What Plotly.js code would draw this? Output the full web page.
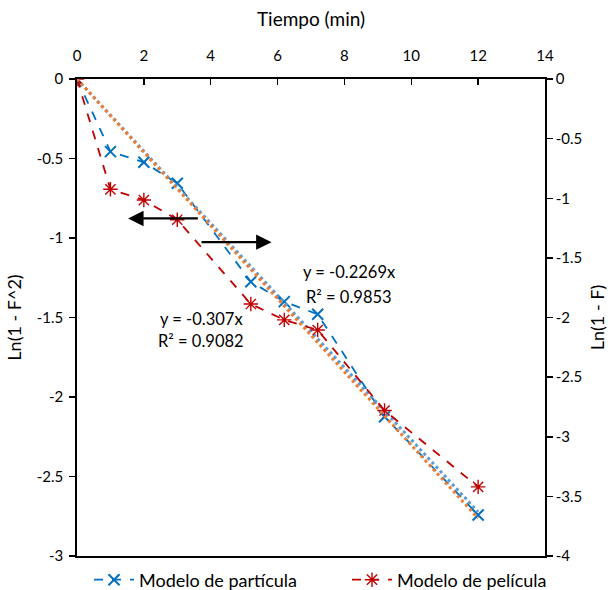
<!DOCTYPE html>
<html>
<head>
<meta charset="utf-8">
<script src="https://cdn.plot.ly/plotly-3.0.1.min.js"></script>
<style>html,body{margin:0;padding:0;background:#fff;}#chart{width:614px;height:590px;}</style>
</head>
<body>
<div id="chart"></div>
<script>
// Data
var tiempo = [0, 1, 2, 3, 5.2, 6.2, 7.2, 9.2, 12];
var particula = [0, -0.457, -0.524, -0.656, -1.275, -1.40, -1.48, -2.124, -2.742];   // Ln(1 - F^2), left axis
var pelicula  = [0, -0.925, -1.015, -1.18, -1.887, -2.02, -2.105, -2.78, -3.42];      // Ln(1 - F), right axis
var slopeParticula = -0.2269;
var slopePelicula = -0.307;
var r2Particula = 0.9853;
var r2Pelicula = 0.9082;
var xTicks = [0, 2, 4, 6, 8, 10, 12, 14];
var yLeftTicks = [0, -0.5, -1, -1.5, -2, -2.5, -3];
var yRightTicks = [0, -0.5, -1, -1.5, -2, -2.5, -3, -3.5, -4];

var tFit = [0, tiempo[tiempo.length - 1]];
var fitPart = tFit.map(function (t) { return slopeParticula * t; });
var fitPel = tFit.map(function (t) { return slopePelicula * t; });

var font = "Lato, 'Open Sans', sans-serif";
function lbl(v) { return String(v); }

var traces = [
  {
    x: tiempo, y: particula, yaxis: 'y', name: 'Modelo de partícula', mode: 'lines+markers', legend: 'legend',
    line: {color: '#0070C0', width: 1.8, dash: 'dash'},
    marker: {symbol: 'x-thin-open', size: 11, color: '#0070C0', line: {color: '#0070C0', width: 2}}
  },
  {
    x: tiempo, y: pelicula, yaxis: 'y2', name: 'Modelo de película', mode: 'lines+markers', legend: 'legend2',
    line: {color: '#C00000', width: 1.8, dash: 'dash'},
    marker: {symbol: 'asterisk-open', size: 12, color: '#C00000', line: {color: '#C00000', width: 1.4}}
  },
  {
    x: tFit, y: fitPart, yaxis: 'y', mode: 'lines', showlegend: false, hoverinfo: 'skip',
    line: {color: '#5B9BD5', width: 3, dash: 'dot'}
  },
  {
    x: tFit, y: fitPel, yaxis: 'y2', mode: 'lines', showlegend: false, hoverinfo: 'skip',
    line: {color: '#ED7D31', width: 3, dash: 'dot'}
  }
];

var legendBase = {orientation: 'h', xanchor: 'left', yref: 'container', y: 10 / 590, yanchor: 'middle',
                  bgcolor: 'rgba(0,0,0,0)', font: {family: font, size: 18, color: '#000'}, itemwidth: 40};

var layout = {
  width: 614, height: 590,
  margin: {l: 77, r: 69, t: 79, b: 34, pad: 0, autoexpand: false},
  paper_bgcolor: '#fff', plot_bgcolor: '#fff',
  font: {family: font, size: 15, color: '#000'},
  showlegend: true,
  legend: Object.assign({}, legendBase, {x: (89 - 77) / 468}),
  legend2: Object.assign({}, legendBase, {x: (347 - 77) / 468}),
  xaxis: {
    side: 'top', range: [0, 14], tickvals: xTicks, ticktext: xTicks.map(lbl),
    ticks: 'inside', ticklen: 6, tickwidth: 1.5, tickcolor: '#000', ticklabelstandoff: 10,
    showline: true, linecolor: '#000', linewidth: 1.8, mirror: true,
    showgrid: false, zeroline: false,
    title: {text: 'Tiempo (min)', font: {family: font, size: 19}, standoff: 14},
    tickfont: {family: font, size: 15}
  },
  yaxis: {
    range: [-3, 0], tickvals: yLeftTicks, ticktext: yLeftTicks.map(lbl),
    ticks: 'outside', ticklen: 6, tickwidth: 1.5, tickcolor: '#000', ticklabelstandoff: 3,
    showline: true, linecolor: '#000', linewidth: 1.8, showgrid: false, zeroline: false,
    title: {text: 'Ln(1 - F^2)', font: {family: font, size: 18}, standoff: 10},
    tickfont: {family: font, size: 15}
  },
  yaxis2: {
    overlaying: 'y', side: 'right', range: [-4, 0], tickvals: yRightTicks, ticktext: yRightTicks.map(lbl),
    ticks: 'outside', ticklen: 6, tickwidth: 1.5, tickcolor: '#000',
    showline: true, linecolor: '#000', linewidth: 1.8, showgrid: false, zeroline: false,
    title: {text: 'Ln(1 - F)', font: {family: font, size: 18}, standoff: 10},
    tickfont: {family: font, size: 15}
  },
  annotations: [
    {xref: 'x', yref: 'y', x: 1.53, y: -0.877, axref: 'x', ayref: 'y', ax: 3.66, ay: -0.877,
     showarrow: true, arrowhead: 2, arrowsize: 1.4, arrowwidth: 2.2, arrowcolor: '#000', text: ''},
    {xref: 'x', yref: 'y', x: 5.82, y: -1.026, axref: 'x', ayref: 'y', ax: 3.68, ay: -1.026,
     showarrow: true, arrowhead: 2, arrowsize: 1.4, arrowwidth: 2.2, arrowcolor: '#000', text: ''},
    {xref: 'paper', yref: 'paper', x: (349 - 77) / 468, y: 1 - (272 - 79) / 477, xanchor: 'center', yanchor: 'middle',
     showarrow: false, text: 'y = ' + slopeParticula + 'x', font: {family: font, size: 16.5}},
    {xref: 'paper', yref: 'paper', x: (349 - 77) / 468, y: 1 - (297 - 79) / 477, xanchor: 'center', yanchor: 'middle',
     showarrow: false, text: 'R² = ' + r2Particula, font: {family: font, size: 16.5}},
    {xref: 'paper', yref: 'paper', x: (201 - 77) / 468, y: 1 - (319 - 79) / 477, xanchor: 'center', yanchor: 'middle',
     showarrow: false, text: 'y = ' + slopePelicula + 'x', font: {family: font, size: 16.5}},
    {xref: 'paper', yref: 'paper', x: (201 - 77) / 468, y: 1 - (341 - 79) / 477, xanchor: 'center', yanchor: 'middle',
     showarrow: false, text: 'R² = ' + r2Pelicula, font: {family: font, size: 16.5}}
  ]
};

Plotly.newPlot('chart', traces, layout, {displayModeBar: false, staticPlot: true});
</script>
</body>
</html>
